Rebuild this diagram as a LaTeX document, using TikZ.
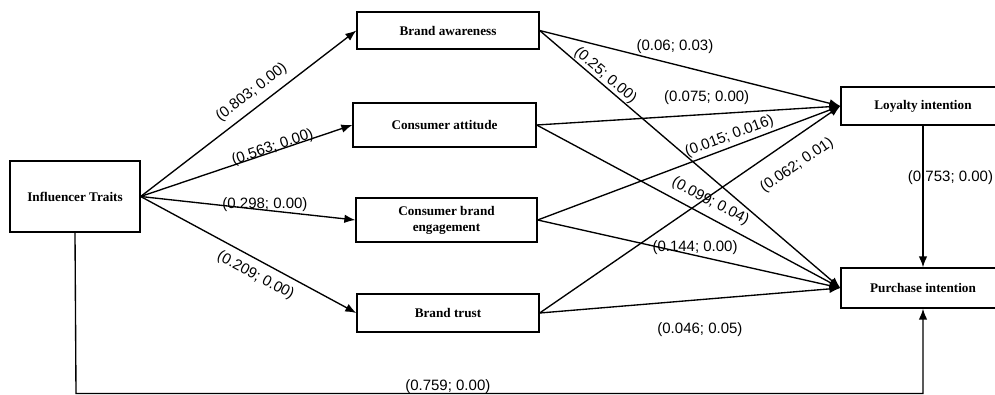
\documentclass[tikz,border=0pt]{standalone}
\usepackage{fontspec}
\setmainfont{Liberation Serif}
\newfontfamily\labelfont{Liberation Sans}
\usetikzlibrary{arrows.meta}
\begin{document}
\begin{tikzpicture}[x=1pt,y=-1pt,
  box/.style={draw, line width=1.3pt, inner sep=0pt, font=\fontsize{13.2}{16}\selectfont\bfseries, align=center},
  conn/.style={line width=1.35pt, -{Latex[length=11pt,width=8.5pt]}},
  lbl/.style={font=\labelfont\fontsize{15}{17}\selectfont, inner sep=0pt}]
\useasboundingbox (0,0) rectangle (995,395);
\clip (0,0) rectangle (995,395);
\fill[white] (0,0) rectangle (995,395);
% boxes
\node[box, minimum width=130pt, minimum height=71pt] (it) at (75,196.5) {Influencer Traits};
\node[box, minimum width=182pt, minimum height=37pt] (ba) at (448,30.5) {Brand awareness};
\node[box, minimum width=183pt, minimum height=44pt] (ca) at (444.5,125) {Consumer attitude};
\node[box, minimum width=181pt, minimum height=44pt] (cbe) at (446.5,220) {Consumer brand\\engagement};
\node[box, minimum width=182pt, minimum height=38pt] (bt) at (448,313) {Brand trust};
\node[box, minimum width=164pt, minimum height=38pt] (li) at (923,106) {Loyalty intention};
\node[box, minimum width=164pt, minimum height=40pt] (pi) at (923,288) {Purchase intention};
% influencer -> mediators
\draw[conn] (it.east) -- (ba.west) node[lbl, sloped, pos=0.556, above=7pt] {(0.803; 0.00)};
\draw[conn] (it.east) -- (ca.west) node[lbl, sloped, pos=0.63, above=-3.4pt] {(0.563; 0.00)};
\draw[conn] (it.east) -- (cbe.west) node[lbl, pos=0.579, above=-2pt] {(0.298; 0.00)};
\draw[conn] (it.east) -- (bt.west) node[lbl, sloped, pos=0.566, below=7.4pt] {(0.209; 0.00)};
% mediators -> loyalty
\draw[conn] (ba.east) -- (li.west) node[lbl, pos=0.45, above=9.8pt] {(0.06; 0.03)};
\draw[conn] (ca.east) -- (li.west) node[lbl, pos=0.56, above=9.4pt] {(0.075; 0.00)};
\draw[conn] (cbe.east) -- (li.west) node[lbl, sloped, pos=0.646, above=3pt] {(0.015; 0.016)};
\draw[conn] (bt.east) -- (li.west) node[lbl, sloped, pos=0.81, below=16.7pt] {(0.062; 0.01)};
% mediators -> purchase
\draw[conn] (ba.east) -- (pi.west) node[lbl, sloped, pos=0.20, above=0.8pt] {(0.25; 0.00)};
\draw[conn] (ca.east) -- (pi.west) node[lbl, sloped, pos=0.549, above=7pt] {(0.099; 0.04)};
\draw[conn] (cbe.east) -- (pi.west) node[lbl, pos=0.52, above=0.3pt] {(0.144; 0.00)};
\draw[conn] (bt.east) -- (pi.west) node[lbl, pos=0.533, below=22.3pt] {(0.046; 0.05)};
% loyalty -> purchase
\draw[conn] (li.south) -- (pi.north) node[lbl, pos=0.37, xshift=27.5pt] {(0.753; 0.00)};
% direct path
\coordinate (c1) at (76,393.5);
\coordinate (c2) at (923,393.5);
\draw[conn] (it.south) -- (c1) -- node[lbl, pos=0.439, above=-0.5pt] {(0.759; 0.00)} (c2) -- (pi.south);
\end{tikzpicture}
\end{document}
